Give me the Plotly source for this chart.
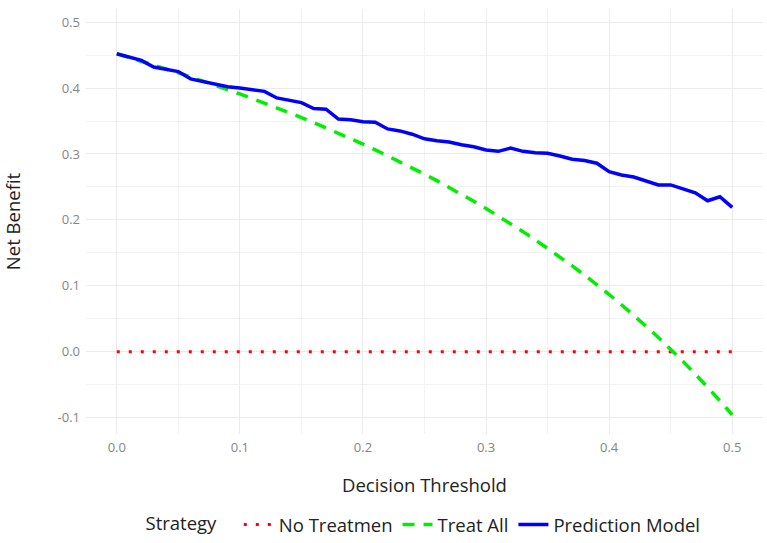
import plotly.graph_objects as go

thresholds = [round(i * 0.01, 2) for i in range(51)]

no_treatment = [0.0] * 51

treat_all = [0.452, 0.4465, 0.4408, 0.4351, 0.4292, 0.4232, 0.4170, 0.4108, 0.4043, 0.3978,
             0.3911, 0.3843, 0.3773, 0.3701, 0.3628, 0.3553, 0.3476, 0.3398, 0.3317, 0.3235,
             0.3150, 0.3063, 0.2974, 0.2883, 0.2789, 0.2693, 0.2595, 0.2493, 0.2389, 0.2282,
             0.2171, 0.2058, 0.1941, 0.1821, 0.1697, 0.1569, 0.1438, 0.1302, 0.1161, 0.1017,
             0.0867, 0.0712, 0.0552, 0.0386, 0.0214, 0.0036, -0.0148, -0.0340, -0.0538, -0.0745,
             -0.096]

prediction_model = [0.452, 0.447, 0.442, 0.432, 0.429, 0.425, 0.414, 0.410, 0.406, 0.402,
                    0.400, 0.398, 0.395, 0.385, 0.381, 0.378, 0.369, 0.368, 0.353, 0.352,
                    0.349, 0.348, 0.338, 0.335, 0.330, 0.323, 0.320, 0.318, 0.314, 0.311,
                    0.306, 0.304, 0.309, 0.304, 0.302, 0.301, 0.297, 0.292, 0.290, 0.286,
                    0.273, 0.268, 0.265, 0.259, 0.253, 0.253, 0.247, 0.241, 0.229, 0.235,
                    0.219]

x_ticks = [0.0, 0.1, 0.2, 0.3, 0.4, 0.5]
x_ticklabels = ["0.0", "0.1", "0.2", "0.3", "0.4", "0.5"]
y_ticks = [-0.1, 0.0, 0.1, 0.2, 0.3, 0.4, 0.5]
y_ticklabels = ["-0.1", "0.0", "0.1", "0.2", "0.3", "0.4", "0.5"]

FONT = "Open Sans"
TITLE_SIZE = 18.5
TICK_COLOR = "#858585"

fig = go.Figure()
fig.add_trace(go.Scatter(x=thresholds, y=no_treatment, mode="lines", name="No Treatmen",
                         line=dict(color="#ff0000", width=3, dash="3px,9px")))
fig.add_trace(go.Scatter(x=thresholds, y=treat_all, mode="lines", name="Treat All",
                         line=dict(color="#00ee00", width=3.5, dash="12px,9px")))
fig.add_trace(go.Scatter(x=thresholds, y=prediction_model, mode="lines", name="Prediction Model",
                         line=dict(color="#0000ff", width=3.5)))

grid = "#ebebeb"
fig.update_layout(
    width=767, height=543,
    margin=dict(l=86, r=4, t=9, b=109),
    paper_bgcolor="white", plot_bgcolor="white",
    font=dict(family=FONT, color="#222222"),
    showlegend=True,
    legend=dict(orientation="h", x=0.5, xanchor="center", xref="paper",
                y=0.033, yanchor="middle", yref="container",
                title=dict(text="Strategy   ", side="left", font=dict(size=TITLE_SIZE, color="#222222")),
                font=dict(size=TITLE_SIZE, color="#222222"), itemwidth=30),
    xaxis=dict(range=[-0.025, 0.525], tickvals=x_ticks, ticktext=x_ticklabels,
               showgrid=True, gridcolor=grid, gridwidth=1.3, zeroline=False,
               showline=False, ticks="", tickfont=dict(size=13, color=TICK_COLOR),
               ticklabelstandoff=4,
               minor=dict(dtick=0.05, tick0=0, showgrid=True, gridcolor="#f2f2f2", gridwidth=1),
               title=dict(text="Decision Threshold", font=dict(size=TITLE_SIZE, color="#222222"), standoff=24)),
    yaxis=dict(range=[-0.125, 0.52], tickvals=y_ticks, ticktext=y_ticklabels,
               showgrid=True, gridcolor=grid, gridwidth=1.3, zeroline=False,
               showline=False, ticks="", tickfont=dict(size=13, color=TICK_COLOR),
               ticklabelstandoff=5,
               minor=dict(dtick=0.05, tick0=0, showgrid=True, gridcolor="#f2f2f2", gridwidth=1),
               title=dict(text="Net Benefit", font=dict(size=TITLE_SIZE, color="#222222"), standoff=36)),
)

fig.write_html("out.html")
